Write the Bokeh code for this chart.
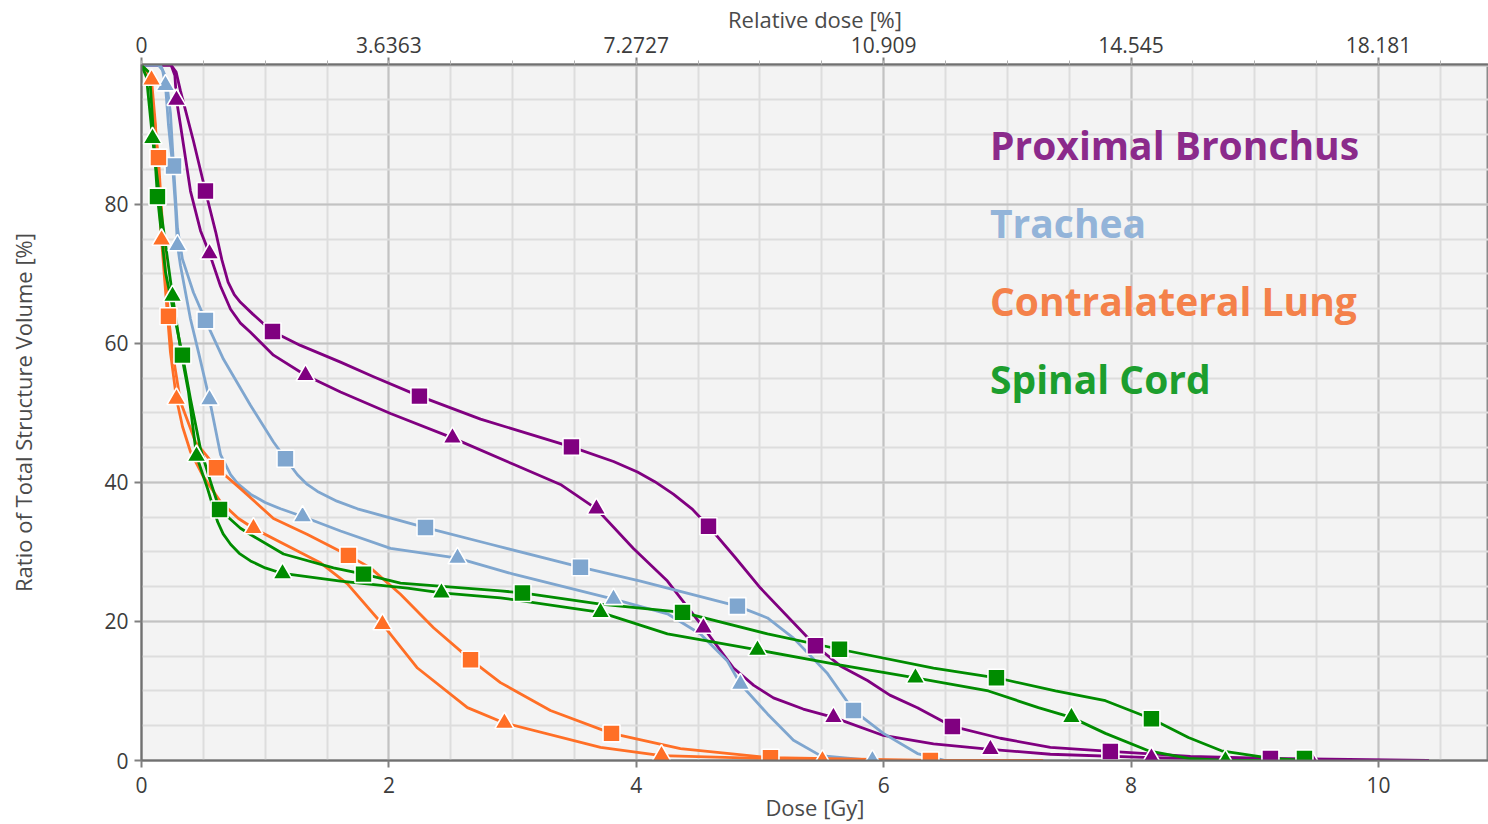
from bokeh.plotting import figure
from bokeh.models import Range1d, LinearAxis, FixedTicker, Label
from bokeh.embed import file_html
from bokeh.resources import INLINE

# ---------------- data: cumulative dose-volume histograms ----------------
# Proximal Bronchus, plan with square markers
pb_sq_dose = [0, 0.24, 0.28, 0.315, 0.42, 0.517, 0.60, 0.65, 0.70, 0.75, 0.80, 0.90, 1.0,
              1.059, 1.285, 1.609, 1.876, 2.247, 2.741, 3.476, 3.816, 4.01, 4.15, 4.3,
              4.45, 4.584, 4.8, 5.004, 5.449, 5.65, 5.869, 6.05, 6.273, 6.556, 6.944,
              7.348, 7.833, 8.48, 9.127, 10.4]
pb_sq_vol = [100, 100, 99.0, 96.3, 89.1, 81.9, 76.0, 72.0, 68.8, 67.0, 65.9, 64.2, 62.6,
             61.7, 59.7, 57.3, 55.2, 52.4, 49.1, 45.1, 43.0, 41.5, 40.1, 38.3,
             36.2, 33.7, 29.2, 24.8, 16.5, 13.6, 11.5, 9.4, 7.6, 4.9, 3.2,
             1.9, 1.3, 0.6, 0.3, 0]
pb_sq_mark_dose = [0.517, 1.059, 2.247, 3.476, 4.584, 5.449, 6.556, 7.833, 9.127]
pb_sq_mark_vol = [81.9, 61.7, 52.4, 45.1, 33.7, 16.5, 4.9, 1.3, 0.3]

# Proximal Bronchus, plan with triangle markers
pb_tri_dose = [0, 0.24, 0.27, 0.283, 0.315, 0.396, 0.477, 0.55, 0.639, 0.72, 0.80, 0.881,
               1.067, 1.326, 1.609, 2.013, 2.514, 3.007, 3.387, 3.678, 3.977, 4.252, 4.543,
               4.786, 4.95, 5.109, 5.35, 5.594, 5.998, 6.403, 6.863, 7.348, 8.165, 9.458,
               10.4]
pb_tri_vol = [100, 100, 98.5, 95.0, 91.4, 81.9, 76.2, 72.9, 68.2, 64.9, 62.9, 61.6,
              58.3, 55.4, 53.0, 49.9, 46.4, 42.6, 39.7, 36.2, 30.5, 25.8, 19.1,
              13.3, 10.8, 9.0, 7.4, 6.2, 3.6, 2.4, 1.6, 0.9, 0.4, 0,
              0]
pb_tri_mark_dose = [0.283, 0.55, 1.326, 2.514, 3.678, 4.543, 5.594, 6.863, 8.165, 9.458]
pb_tri_mark_vol = [95.0, 72.9, 55.4, 46.4, 36.2, 19.1, 6.2, 1.6, 0.4, 0.0]

# Trachea
tr_sq_dose = [0, 0.154, 0.2, 0.234, 0.259, 0.291, 0.331, 0.42, 0.517, 0.663, 0.881, 1.067,
              1.164, 1.261, 1.34, 1.423, 1.58, 1.746, 2.296, 2.821, 3.549, 4.034, 4.818,
              5.061, 5.271, 5.546, 5.756, 5.998, 6.273, 6.5]
tr_sq_vol = [100, 100, 98.1, 93.1, 85.5, 76.5, 72.1, 67.3, 63.3, 57.7, 51.1, 45.8,
             43.4, 41.1, 39.7, 38.7, 37.3, 36.2, 33.5, 31.1, 27.8, 25.8, 22.2,
             20.5, 17.6, 12.5, 7.2, 3.9, 1.0, 0]
tr_sq_mark_dose = [0.259, 0.517, 1.164, 2.296, 3.549, 4.818, 5.756]
tr_sq_mark_vol = [85.5, 63.3, 43.4, 33.5, 27.8, 22.2, 7.2]

tr_tri_dose = [0, 0.137, 0.17, 0.194, 0.218, 0.251, 0.275, 0.291, 0.315, 0.396, 0.461, 0.55,
               0.639, 0.72, 0.78, 0.881, 1.0, 1.124, 1.302, 1.609, 2.013, 2.555, 3.007,
               3.816, 4.252, 4.519, 4.737, 4.842, 5.061, 5.271, 5.489, 5.909, 6.3]
tr_tri_vol = [100, 100, 99.3, 97.1, 91.4, 85.7, 79.5, 74.1, 71.2, 63.5, 58.7, 51.9,
              44.0, 41.1, 39.8, 38.3, 37.1, 36.2, 35.1, 33.0, 30.5, 29.1, 26.8,
              23.2, 21.1, 18.2, 14.3, 11.0, 6.7, 2.9, 0.7, 0, 0]
tr_tri_mark_dose = [0.194, 0.291, 0.55, 1.302, 2.555, 3.816, 4.842, 5.909]
tr_tri_mark_vol = [97.1, 74.1, 51.9, 35.1, 29.1, 23.2, 11.0, 0.0]

# Contralateral Lung
cl_sq_dose = [0, 0.073, 0.137, 0.178, 0.218, 0.251, 0.315, 0.437, 0.606, 0.8, 1.067, 1.342,
              1.673, 1.851, 2.094, 2.361, 2.66, 2.902, 3.306, 3.8, 4.357, 5.085, 6.378, 7.28]
cl_sq_vol = [100, 97.4, 86.7, 74.5, 63.9, 58.7, 51.6, 45.8, 42.1, 39.1, 34.8, 32.5,
             29.5, 27.7, 23.9, 19.1, 14.5, 11.2, 7.2, 3.9, 1.7, 0.4, 0, 0]
cl_sq_mark_dose = [0.137, 0.218, 0.606, 1.673, 2.66, 3.8, 5.085, 6.378]
cl_sq_mark_vol = [86.7, 63.9, 42.1, 29.5, 14.5, 3.9, 0.4, 0.0]

cl_tri_dose = [0, 0.049, 0.081, 0.113, 0.137, 0.162, 0.194, 0.234, 0.283, 0.332, 0.396, 0.501,
               0.639, 0.784, 0.905, 1.285, 1.45, 1.665, 1.948, 2.231, 2.635, 2.934, 3.711,
               4.204, 5.004, 5.505, 7.28]
cl_tri_vol = [100, 99.1, 97.9, 91.4, 81.9, 74.9, 67.6, 58.7, 52.0, 48.0, 44.4, 40.8,
              37.2, 34.8, 33.4, 29.9, 28.4, 25.4, 19.6, 13.3, 7.6, 5.4, 1.9,
              0.7, 0.3, 0, 0]
cl_tri_mark_dose = [0.081, 0.162, 0.283, 0.905, 1.948, 2.934, 4.204, 5.505]
cl_tri_mark_vol = [97.9, 74.9, 52.0, 33.4, 19.6, 5.4, 0.7, 0.0]

# Spinal Cord
sc_sq_dose = [0, 0.065, 0.129, 0.194, 0.331, 0.396, 0.477, 0.558, 0.631, 0.8, 0.881, 1.148,
              1.552, 1.795, 2.094, 2.902, 3.08, 3.711, 4.374, 5.061, 5.643, 6.403, 6.912,
              7.389, 7.793, 8.165, 8.464, 8.731, 9.135, 9.402]
sc_sq_vol = [100, 98.9, 81.1, 70.2, 58.3, 52.0, 44.8, 40.1, 36.1, 33.4, 32.5, 29.7,
             27.7, 26.8, 25.5, 24.4, 24.1, 22.5, 21.3, 18.2, 16.0, 13.3, 11.9,
             10.0, 8.6, 6.0, 3.3, 1.4, 0.3, 0]
sc_sq_mark_dose = [0.129, 0.331, 0.631, 1.795, 3.08, 4.374, 5.643, 6.912, 8.165, 9.402]
sc_sq_mark_vol = [81.1, 58.3, 36.1, 26.8, 24.1, 21.3, 16.0, 11.9, 6.0, 0.3]

sc_tri_dose = [0, 0.04, 0.089, 0.17, 0.251, 0.315, 0.38, 0.445, 0.534, 0.614, 0.66, 0.72,
               0.79, 0.881, 1.0, 1.14, 1.609, 2.15, 2.425, 2.902, 3.711, 4.252, 4.98,
               5.594, 6.257, 6.847, 7.251, 7.518, 7.793, 8.141, 8.464, 8.763, 9.402]
sc_tri_vol = [100, 98.3, 89.5, 77.4, 66.8, 59.2, 53.0, 43.8, 39.1, 34.4, 32.6, 31.1,
              29.8, 28.7, 27.7, 26.9, 25.8, 24.8, 24.1, 23.4, 21.3, 18.2, 15.9,
              13.9, 11.9, 10.0, 7.6, 6.2, 3.9, 1.4, 0.3, 0, 0]
sc_tri_mark_dose = [0.089, 0.251, 0.445, 1.14, 2.425, 3.711, 4.98, 6.257, 7.518, 8.763]
sc_tri_mark_vol = [89.5, 66.8, 43.8, 26.9, 24.1, 21.3, 15.9, 11.9, 6.2, 0.0]

structure_names = ["Proximal Bronchus", "Trachea", "Contralateral Lung", "Spinal Cord"]

dose_ticks = [0, 2, 4, 6, 8, 10]
volume_ticks = [0, 20, 40, 60, 80]
relative_dose_labels = ["0", "3.6363", "7.2727", "10.909", "14.545", "18.181"]

# ---------------- styling ----------------
line_colors = ["#800080", "#7fa6cf", "#ff6f26", "#008c00"]
text_colors = ["#8b2a8b", "#93b4d9", "#f4814a", "#1c9e2e"]
FONT = "Open Sans"

p = figure(width=1488, height=824,
           x_range=Range1d(0, 10.89), y_range=Range1d(0, 100.1),
           output_backend="svg", toolbar_location=None,
           min_border_left=141, min_border_right=0,
           min_border_top=62, min_border_bottom=64,
           background_fill_color="#f3f3f3", border_fill_color="white",
           x_axis_label="Dose [Gy]",
           y_axis_label="Ratio of Total Structure Volume [%]")
p.outline_line_color = "#8a8a8a"
p.outline_line_width = 2

bottom = p.below[0]
left = p.left[0]

x_minor = [i * 0.5 for i in range(23)]
y_minor = [i * 5 for i in range(21)]
xticker = FixedTicker(ticks=dose_ticks, minor_ticks=x_minor)
yticker = FixedTicker(ticks=volume_ticks + [100], minor_ticks=y_minor)

bottom.ticker = xticker
left.ticker = FixedTicker(ticks=volume_ticks, minor_ticks=y_minor)
p.xgrid.ticker = xticker
p.ygrid.ticker = yticker
for g in (p.xgrid, p.ygrid):
    g.grid_line_color = "#c2c2c2"
    g.grid_line_width = 2
    g.minor_grid_line_color = "#dddddd"
    g.minor_grid_line_width = 2

# top axis: relative dose
top = LinearAxis(ticker=FixedTicker(ticks=dose_ticks, minor_ticks=x_minor),
                 axis_label="Relative dose [%]",
                 major_label_overrides={d: s for d, s in zip(dose_ticks, relative_dose_labels)})
p.add_layout(top, "above")

for ax in (bottom, left, top):
    ax.axis_line_color = "#707070"
    ax.axis_line_width = 2
    ax.major_tick_line_color = "#808080"
    ax.major_tick_line_width = 2
    ax.major_tick_out = 7
    ax.major_tick_in = 0
    ax.minor_tick_in = 0
    ax.major_label_text_font = FONT
    ax.major_label_text_font_size = "21px"
    ax.major_label_text_color = "#3c3c3c"
    ax.axis_label_text_font = FONT
    ax.axis_label_text_font_size = "22px"
    ax.axis_label_text_font_style = "normal"
    ax.axis_label_text_color = "#4a4a4a"

bottom.minor_tick_line_color = None
left.minor_tick_line_color = None
top.minor_tick_line_color = "#b0b0b0"
top.minor_tick_out = 4
top.major_label_standoff = 5
top.axis_label_standoff = 0
bottom.major_label_standoff = 9
bottom.axis_label_standoff = -4
left.major_label_standoff = 6
left.axis_label_standoff = 63

# ---------------- curves ----------------
curves = [
    (pb_sq_dose, pb_sq_vol, pb_sq_mark_dose, pb_sq_mark_vol, 0, "square"),
    (pb_tri_dose, pb_tri_vol, pb_tri_mark_dose, pb_tri_mark_vol, 0, "triangle"),
    (tr_sq_dose, tr_sq_vol, tr_sq_mark_dose, tr_sq_mark_vol, 1, "square"),
    (tr_tri_dose, tr_tri_vol, tr_tri_mark_dose, tr_tri_mark_vol, 1, "triangle"),
    (cl_sq_dose, cl_sq_vol, cl_sq_mark_dose, cl_sq_mark_vol, 2, "square"),
    (cl_tri_dose, cl_tri_vol, cl_tri_mark_dose, cl_tri_mark_vol, 2, "triangle"),
    (sc_sq_dose, sc_sq_vol, sc_sq_mark_dose, sc_sq_mark_vol, 3, "square"),
    (sc_tri_dose, sc_tri_vol, sc_tri_mark_dose, sc_tri_mark_vol, 3, "triangle"),
]

for dx, vy, _, _, ci, _ in curves:
    p.line(dx, vy, line_color=line_colors[ci], line_width=2.8,
           line_join="round", line_cap="round")

for _, _, mx, my, ci, mk in curves:
    p.scatter(mx, my, marker=mk, size=17 if mk == "square" else 19,
              fill_color=line_colors[ci], line_color="white", line_width=1.6)

# ---------------- structure names ----------------
name_y = [88.6, 77.4, 66.2, 54.9]
for name, yv, col in zip(structure_names, name_y, text_colors):
    p.add_layout(Label(x=6.86, y=yv, text=name, text_font="Open Sans",
                       text_font_style="bold", text_font_size="39px",
                       text_color=col, text_baseline="middle", text_align="left"))

open("out.html", "w").write(file_html(p, INLINE))
